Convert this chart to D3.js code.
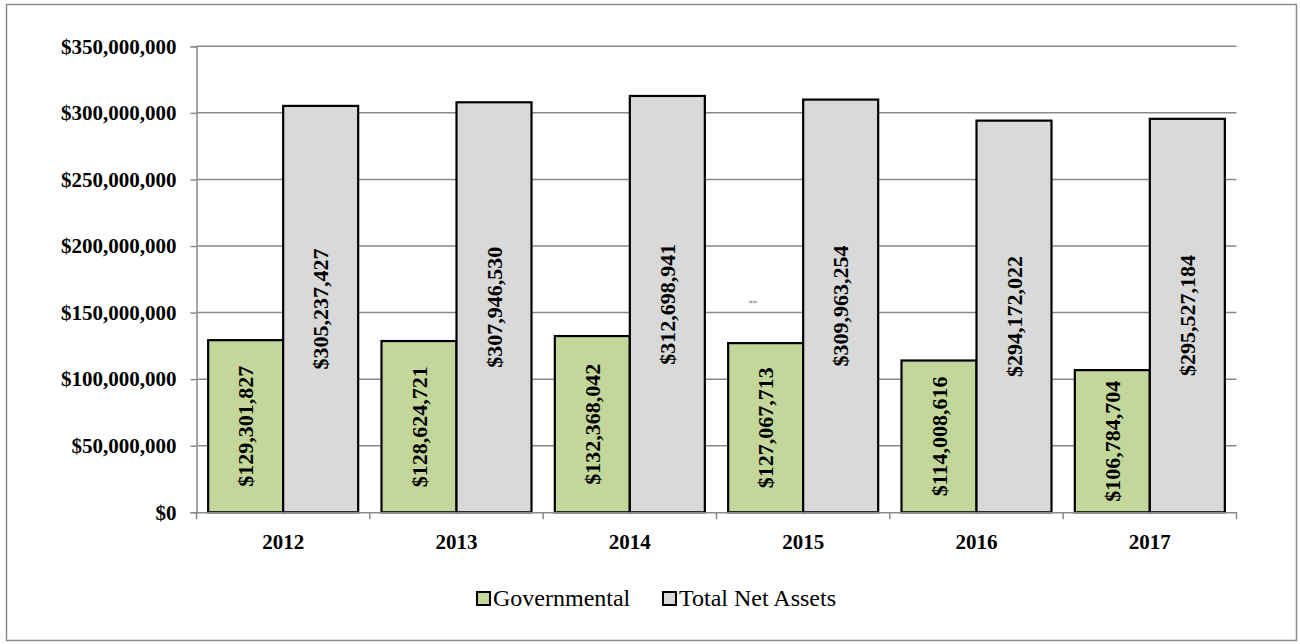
<!DOCTYPE html>
<html>
<head>
<meta charset="utf-8">
<script src="https://cdn.jsdelivr.net/npm/d3@7"></script>
<style>
  html, body { margin: 0; padding: 0; background: #fff; }
  svg { display: block; }
</style>
</head>
<body>
<svg id="chart" width="1300" height="644"></svg>
<script>
// Fiscal years on the category axis
const years = ["2012", "2013", "2014", "2015", "2016", "2017"];
// Net assets by year
const governmental = [129301827, 128624721, 132368042, 127067713, 114008616, 106784704];
const totalNetAssets = [305237427, 307946530, 312698941, 309963254, 294172022, 295527184];
// Series names shown in the legend
const seriesNames = ["Governmental", "Total Net Assets"];
// Value-axis ticks
const yTicks = [0, 50000000, 100000000, 150000000, 200000000, 250000000, 300000000, 350000000];

const colors = ["#C4D79B", "#D9D9D9"];
const seriesValues = [governmental, totalNetAssets];

const svg = d3.select("#chart");
const plot = { left: 196.5, right: 1236.5, top: 46.3, bottom: 512.3 };
const serif = "'Liberation Serif', 'Times New Roman', serif";

// Outer chart frame
svg.append("rect")
  .attr("x", 6.5).attr("y", 4.5)
  .attr("width", 1290).attr("height", 636)
  .attr("fill", "#fff").attr("stroke", "#8c8c8c").attr("stroke-width", 1.5);

const y = d3.scaleLinear().domain([0, 350000000]).range([plot.bottom, plot.top]);
const x0 = d3.scaleBand().domain(years).range([plot.left, plot.right]).paddingInner(0.1346).paddingOuter(0.0673);
const x1 = d3.scaleBand().domain(seriesNames).range([0, x0.bandwidth()]);
const xb = d3.scaleBand().domain(years).range([plot.left, plot.right]);

const fmt = v => "$" + d3.format(",")(v);

// Horizontal gridlines
svg.append("g").selectAll("line").data(yTicks.slice(1)).join("line")
  .attr("x1", plot.left).attr("x2", plot.right)
  .attr("y1", d => y(d)).attr("y2", d => y(d))
  .attr("stroke", "#8a8a8a").attr("stroke-width", 1.5);

// Value axis
const yAxis = svg.append("g")
  .attr("transform", `translate(${plot.left},0)`)
  .call(d3.axisLeft(y).tickValues(yTicks).tickFormat(d => fmt(d)).tickSize(6).tickPadding(14));
yAxis.select(".domain").attr("stroke", "#8a8a8a").attr("stroke-width", 1.5);
yAxis.selectAll(".tick line").attr("stroke", "#8a8a8a").attr("stroke-width", 1.5);
yAxis.selectAll(".tick text")
  .attr("font-family", serif).attr("font-weight", "bold").attr("font-size", 21).attr("fill", "#000");

// Bars
const groups = svg.append("g").selectAll("g").data(years).join("g")
  .attr("transform", d => `translate(${x0(d)},0)`);

groups.selectAll("rect")
  .data((yr, i) => seriesNames.map((s, k) => ({ s, k, v: seriesValues[k][i] })))
  .join("rect")
  .attr("x", d => x1(d.s))
  .attr("y", d => y(d.v))
  .attr("width", x1.bandwidth())
  .attr("height", d => y(0) - y(d.v))
  .attr("fill", d => colors[d.k])
  .attr("stroke", "#000").attr("stroke-width", 2.2);

// Category axis
const xAxis = svg.append("g")
  .attr("transform", `translate(0,${plot.bottom})`)
  .call(d3.axisBottom(xb).tickSize(0).tickPadding(22));
xAxis.select(".domain").attr("stroke", "#8a8a8a").attr("stroke-width", 1.5);
xAxis.selectAll(".tick text")
  .attr("font-family", serif).attr("font-weight", "bold").attr("font-size", 21).attr("fill", "#000");
// Tick marks between categories
svg.append("g").selectAll("line")
  .data(years.map(d => xb(d)).concat([plot.right]))
  .join("line")
  .attr("x1", d => d).attr("x2", d => d)
  .attr("y1", plot.bottom).attr("y2", plot.bottom + 7)
  .attr("stroke", "#8a8a8a").attr("stroke-width", 1.5);

// Rotated value labels inside each bar
groups.selectAll("text.val")
  .data((yr, i) => seriesNames.map((s, k) => ({ s, k, v: seriesValues[k][i] })))
  .join("text")
  .attr("class", "val")
  .attr("transform", d => {
    const cx = x1(d.s) + x1.bandwidth() / 2;
    const cy = (y(d.v) + y(0)) / 2;
    return `translate(${cx},${cy}) rotate(-90)`;
  })
  .attr("text-anchor", "middle")
  .attr("dy", "0.35em")
  .attr("font-family", serif).attr("font-weight", "bold").attr("font-size", 22)
  .attr("fill", "#000")
  .text(d => fmt(d.v));

// Small stray label mark above the 2015 bars
svg.append("text")
  .attr("x", x0("2015") + x1.bandwidth() * 0.33).attr("y", 308)
  .attr("text-anchor", "middle")
  .attr("font-family", serif).attr("font-size", 10).attr("fill", "#444")
  .text("\"\"");

// Legend
const legend = svg.append("g").attr("transform", "translate(0,598)");
const legendX = [477, 663];
seriesNames.forEach((name, k) => {
  legend.append("rect")
    .attr("x", legendX[k]).attr("y", -6)
    .attr("width", 13).attr("height", 13)
    .attr("fill", colors[k]).attr("stroke", "#000").attr("stroke-width", 2);
  legend.append("text")
    .attr("x", legendX[k] + 16).attr("y", 8)
    .attr("font-family", serif).attr("font-size", 24).attr("fill", "#000")
    .text(name);
});
</script>
</body>
</html>
